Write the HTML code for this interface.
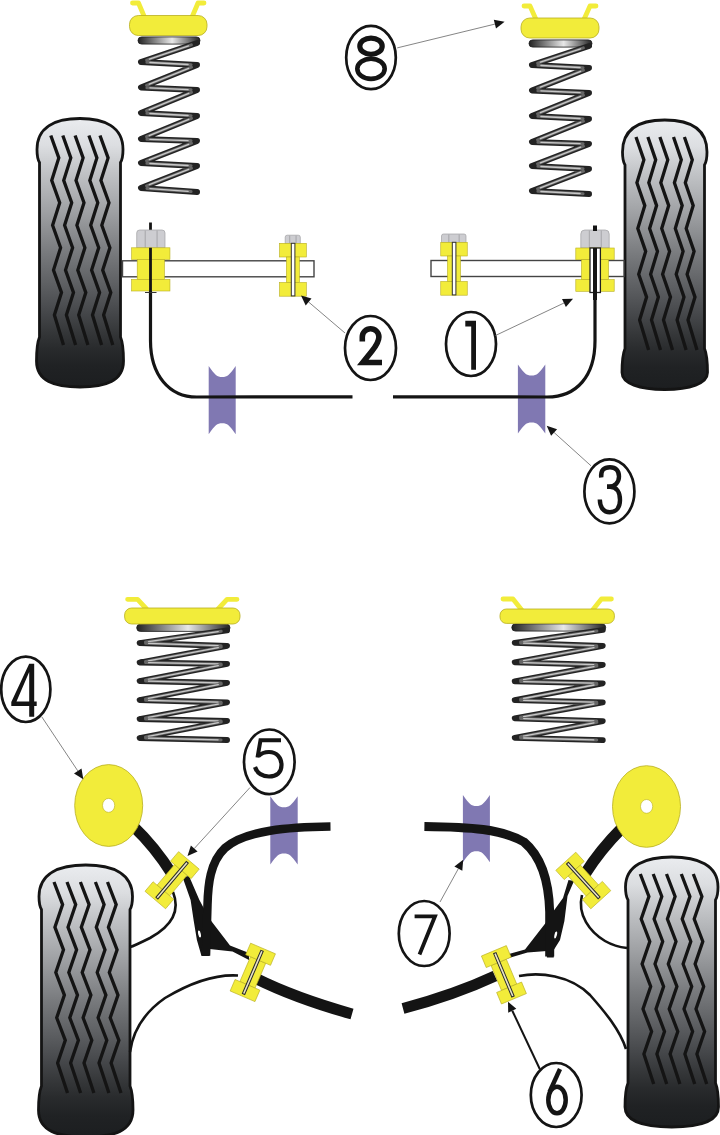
<!DOCTYPE html><html><head><meta charset="utf-8"><style>html,body{margin:0;padding:0;background:#fff;overflow:hidden;}svg{display:block;}</style></head><body>
<svg width="720" height="1135" viewBox="0 0 720 1135">
<defs>
<linearGradient id="tyreg" x1="0" y1="0" x2="0" y2="1">
<stop offset="0" stop-color="#eaecef"/>
<stop offset="0.1" stop-color="#dcdee1"/>
<stop offset="0.2" stop-color="#c1c3c6"/>
<stop offset="0.35" stop-color="#9ea0a3"/>
<stop offset="0.5" stop-color="#787a7d"/>
<stop offset="0.62" stop-color="#5d5f62"/>
<stop offset="0.72" stop-color="#46484b"/>
<stop offset="0.8" stop-color="#343638"/>
<stop offset="0.86" stop-color="#282a2c"/>
<stop offset="0.92" stop-color="#202224"/>
<stop offset="1" stop-color="#1c1e20"/>
</linearGradient>
<linearGradient id="ringg" x1="0" y1="0" x2="1" y2="0">
<stop offset="0" stop-color="#222"/>
<stop offset="0.55" stop-color="#e8e8e8"/>
<stop offset="1" stop-color="#222"/>
</linearGradient>
</defs>
<rect width="720" height="1135" fill="#fff"/>
<rect x="138" y="36.9" width="62" height="7.2" rx="3.6" fill="url(#ringg)" stroke="#1a1a1a" stroke-width="0.8"/>
<path d="M 197.1 43.0 L 140.9 62.0 L 197.1 65.0 L 140.9 87.5 L 197.1 90.0 L 140.9 113.0 L 197.1 116.0 L 140.9 139.0 L 197.1 141.0 L 140.9 163.0 L 197.1 166.0 L 140.9 188.0 L 197.1 192.0" fill="none" stroke="#232323" stroke-width="5.8" stroke-linecap="round" stroke-linejoin="round"/>
<line x1="191.4" y1="44.9" x2="146.6" y2="60.1" stroke="#666" stroke-width="3" stroke-linecap="round"/>
<line x1="188.6" y1="45.9" x2="149.4" y2="59.1" stroke="#c8c8c8" stroke-width="1.3" stroke-linecap="round"/>
<line x1="146.9" y1="62.3" x2="191.1" y2="64.7" stroke="#666" stroke-width="3" stroke-linecap="round"/>
<line x1="149.9" y1="62.5" x2="188.1" y2="64.5" stroke="#c8c8c8" stroke-width="1.3" stroke-linecap="round"/>
<line x1="191.5" y1="67.2" x2="146.5" y2="85.3" stroke="#666" stroke-width="3" stroke-linecap="round"/>
<line x1="188.7" y1="68.3" x2="149.3" y2="84.2" stroke="#c8c8c8" stroke-width="1.3" stroke-linecap="round"/>
<line x1="146.9" y1="87.8" x2="191.1" y2="89.7" stroke="#666" stroke-width="3" stroke-linecap="round"/>
<line x1="149.9" y1="87.9" x2="188.1" y2="89.6" stroke="#c8c8c8" stroke-width="1.3" stroke-linecap="round"/>
<line x1="191.5" y1="92.3" x2="146.5" y2="110.7" stroke="#666" stroke-width="3" stroke-linecap="round"/>
<line x1="188.8" y1="93.4" x2="149.2" y2="109.6" stroke="#c8c8c8" stroke-width="1.3" stroke-linecap="round"/>
<line x1="146.9" y1="113.3" x2="191.1" y2="115.7" stroke="#666" stroke-width="3" stroke-linecap="round"/>
<line x1="149.9" y1="113.5" x2="188.1" y2="115.5" stroke="#c8c8c8" stroke-width="1.3" stroke-linecap="round"/>
<line x1="191.5" y1="118.3" x2="146.5" y2="136.7" stroke="#666" stroke-width="3" stroke-linecap="round"/>
<line x1="188.8" y1="119.4" x2="149.2" y2="135.6" stroke="#c8c8c8" stroke-width="1.3" stroke-linecap="round"/>
<line x1="146.9" y1="139.2" x2="191.1" y2="140.8" stroke="#666" stroke-width="3" stroke-linecap="round"/>
<line x1="149.9" y1="139.3" x2="188.1" y2="140.7" stroke="#c8c8c8" stroke-width="1.3" stroke-linecap="round"/>
<line x1="191.5" y1="143.2" x2="146.5" y2="160.8" stroke="#666" stroke-width="3" stroke-linecap="round"/>
<line x1="188.7" y1="144.3" x2="149.3" y2="159.7" stroke="#c8c8c8" stroke-width="1.3" stroke-linecap="round"/>
<line x1="146.9" y1="163.3" x2="191.1" y2="165.7" stroke="#666" stroke-width="3" stroke-linecap="round"/>
<line x1="149.9" y1="163.5" x2="188.1" y2="165.5" stroke="#c8c8c8" stroke-width="1.3" stroke-linecap="round"/>
<line x1="191.5" y1="168.2" x2="146.5" y2="185.8" stroke="#666" stroke-width="3" stroke-linecap="round"/>
<line x1="188.7" y1="169.3" x2="149.3" y2="184.7" stroke="#c8c8c8" stroke-width="1.3" stroke-linecap="round"/>
<line x1="146.9" y1="188.4" x2="191.1" y2="191.6" stroke="#666" stroke-width="3" stroke-linecap="round"/>
<line x1="149.9" y1="188.6" x2="188.1" y2="191.4" stroke="#c8c8c8" stroke-width="1.3" stroke-linecap="round"/>
<rect x="529" y="39.9" width="63" height="7.2" rx="3.6" fill="url(#ringg)" stroke="#1a1a1a" stroke-width="0.8"/>
<path d="M 589.1 46.0 L 531.9 65.0 L 589.1 68.0 L 531.9 90.5 L 589.1 93.0 L 531.9 116.0 L 589.1 119.0 L 531.9 142.0 L 589.1 144.0 L 531.9 166.0 L 589.1 169.0 L 531.9 191.0 L 589.1 194.0" fill="none" stroke="#232323" stroke-width="5.8" stroke-linecap="round" stroke-linejoin="round"/>
<line x1="583.4" y1="47.9" x2="537.6" y2="63.1" stroke="#666" stroke-width="3" stroke-linecap="round"/>
<line x1="580.6" y1="48.8" x2="540.4" y2="62.2" stroke="#c8c8c8" stroke-width="1.3" stroke-linecap="round"/>
<line x1="537.9" y1="65.3" x2="583.1" y2="67.7" stroke="#666" stroke-width="3" stroke-linecap="round"/>
<line x1="540.9" y1="65.5" x2="580.1" y2="67.5" stroke="#c8c8c8" stroke-width="1.3" stroke-linecap="round"/>
<line x1="583.5" y1="70.2" x2="537.5" y2="88.3" stroke="#666" stroke-width="3" stroke-linecap="round"/>
<line x1="580.7" y1="71.3" x2="540.3" y2="87.2" stroke="#c8c8c8" stroke-width="1.3" stroke-linecap="round"/>
<line x1="537.9" y1="90.8" x2="583.1" y2="92.7" stroke="#666" stroke-width="3" stroke-linecap="round"/>
<line x1="540.9" y1="90.9" x2="580.1" y2="92.6" stroke="#c8c8c8" stroke-width="1.3" stroke-linecap="round"/>
<line x1="583.5" y1="95.2" x2="537.5" y2="113.8" stroke="#666" stroke-width="3" stroke-linecap="round"/>
<line x1="580.7" y1="96.4" x2="540.3" y2="112.6" stroke="#c8c8c8" stroke-width="1.3" stroke-linecap="round"/>
<line x1="537.9" y1="116.3" x2="583.1" y2="118.7" stroke="#666" stroke-width="3" stroke-linecap="round"/>
<line x1="540.9" y1="116.5" x2="580.1" y2="118.5" stroke="#c8c8c8" stroke-width="1.3" stroke-linecap="round"/>
<line x1="583.5" y1="121.2" x2="537.5" y2="139.8" stroke="#666" stroke-width="3" stroke-linecap="round"/>
<line x1="580.7" y1="122.4" x2="540.3" y2="138.6" stroke="#c8c8c8" stroke-width="1.3" stroke-linecap="round"/>
<line x1="537.9" y1="142.2" x2="583.1" y2="143.8" stroke="#666" stroke-width="3" stroke-linecap="round"/>
<line x1="540.9" y1="142.3" x2="580.1" y2="143.7" stroke="#c8c8c8" stroke-width="1.3" stroke-linecap="round"/>
<line x1="583.5" y1="146.2" x2="537.5" y2="163.8" stroke="#666" stroke-width="3" stroke-linecap="round"/>
<line x1="580.7" y1="147.2" x2="540.3" y2="162.8" stroke="#c8c8c8" stroke-width="1.3" stroke-linecap="round"/>
<line x1="537.9" y1="166.3" x2="583.1" y2="168.7" stroke="#666" stroke-width="3" stroke-linecap="round"/>
<line x1="540.9" y1="166.5" x2="580.1" y2="168.5" stroke="#c8c8c8" stroke-width="1.3" stroke-linecap="round"/>
<line x1="583.5" y1="171.2" x2="537.5" y2="188.8" stroke="#666" stroke-width="3" stroke-linecap="round"/>
<line x1="580.7" y1="172.2" x2="540.3" y2="187.8" stroke="#c8c8c8" stroke-width="1.3" stroke-linecap="round"/>
<line x1="537.9" y1="191.3" x2="583.1" y2="193.7" stroke="#666" stroke-width="3" stroke-linecap="round"/>
<line x1="540.9" y1="191.5" x2="580.1" y2="193.5" stroke="#c8c8c8" stroke-width="1.3" stroke-linecap="round"/>
<path d="M 144.225 16.5 L 138.5 3 L 132.5 3" fill="none" stroke="#f2ec3a" stroke-width="4.8" stroke-linejoin="round" stroke-linecap="round"/>
<path d="M 192.275 16.5 L 198 3 L 204 3" fill="none" stroke="#f2ec3a" stroke-width="4.8" stroke-linejoin="round" stroke-linecap="round"/>
<rect x="129.5" y="15.5" width="77.5" height="20.0" rx="8.8" fill="#f2ec3a" stroke="#b8ae20" stroke-width="0.8"/>
<path d="M 535.82 19 L 530 6 L 524 6" fill="none" stroke="#f2ec3a" stroke-width="4.8" stroke-linejoin="round" stroke-linecap="round"/>
<path d="M 584.18 19 L 590 6 L 596 6" fill="none" stroke="#f2ec3a" stroke-width="4.8" stroke-linejoin="round" stroke-linecap="round"/>
<rect x="521" y="18" width="78" height="20" rx="8.8" fill="#f2ec3a" stroke="#b8ae20" stroke-width="0.8"/>
<path d="M 39.5 162.5 C 37 158.5, 37 153.5, 37 149.5 C 37 126.5, 55.92 118.5, 80.0 118.5 C 104.08 118.5, 123 126.5, 123 149.5 C 123 153.5, 123 158.5, 120.5 162.5 L 120.5 337 C 123 343, 123.5 351, 123.5 361 C 123.5 381, 105.8 387, 80.0 387 C 54.2 387, 36.5 381, 36.5 361 C 36.5 351, 37 343, 39.5 337 Z" fill="url(#tyreg)" stroke="#141414" stroke-width="2.8"/>
<path d="M 50.8 135.5 L 58.8 157.9 L 51.7 180.4 L 59.7 202.8 L 52.6 225.2 L 60.6 247.7 L 53.5 270.1 L 61.5 292.6 L 54.4 315.0 L 63.5 345.0" fill="none" stroke="#141414" stroke-width="3.3" stroke-linejoin="miter" stroke-miterlimit="6"/>
<path d="M 62.8 135.5 L 70.8 157.9 L 63.7 180.4 L 71.7 202.8 L 64.6 225.2 L 72.6 247.7 L 65.5 270.1 L 73.5 292.6 L 66.4 315.0 L 75.6 345.0" fill="none" stroke="#141414" stroke-width="3.3" stroke-linejoin="miter" stroke-miterlimit="6"/>
<path d="M 75.1 135.5 L 83.1 157.9 L 76.0 180.4 L 84.0 202.8 L 76.9 225.2 L 84.9 247.7 L 77.8 270.1 L 85.8 292.6 L 78.7 315.0 L 87.9 345.0" fill="none" stroke="#141414" stroke-width="3.3" stroke-linejoin="miter" stroke-miterlimit="6"/>
<path d="M 88.9 135.5 L 96.9 157.9 L 89.8 180.4 L 97.8 202.8 L 90.7 225.2 L 98.7 247.7 L 91.6 270.1 L 99.6 292.6 L 92.5 315.0 L 101.6 345.0" fill="none" stroke="#141414" stroke-width="3.3" stroke-linejoin="miter" stroke-miterlimit="6"/>
<path d="M 100.0 135.5 L 108.1 157.9 L 100.9 180.4 L 109.0 202.8 L 101.8 225.2 L 109.9 247.7 L 102.7 270.1 L 110.8 292.6 L 103.6 315.0 L 112.8 345.0" fill="none" stroke="#141414" stroke-width="3.3" stroke-linejoin="miter" stroke-miterlimit="6"/>
<path d="M 625.0 165 C 622.5 161, 622.5 156, 622.5 152 C 622.5 128, 641.09 120, 664.75 120 C 688.41 120, 707 128, 707 152 C 707 156, 707 161, 704.5 165 L 704.5 348.5 C 707 354.5, 707.5 362.5, 707.5 372.5 C 707.5 383.5, 690.1 389.5, 664.75 389.5 C 639.4 389.5, 622.0 383.5, 622.0 372.5 C 622.0 362.5, 622.5 354.5, 625.0 348.5 Z" fill="url(#tyreg)" stroke="#141414" stroke-width="2.8"/>
<path d="M 636.0 137.0 L 643.9 159.9 L 636.9 182.8 L 644.8 205.6 L 637.8 228.5 L 645.7 251.4 L 638.7 274.2 L 646.6 297.1 L 639.6 320.0 L 648.6 350.0" fill="none" stroke="#141414" stroke-width="3.3" stroke-linejoin="miter" stroke-miterlimit="6"/>
<path d="M 647.9 137.0 L 655.7 159.9 L 648.8 182.8 L 656.6 205.6 L 649.6 228.5 L 657.5 251.4 L 650.6 274.2 L 658.4 297.1 L 651.5 320.0 L 660.5 350.0" fill="none" stroke="#141414" stroke-width="3.3" stroke-linejoin="miter" stroke-miterlimit="6"/>
<path d="M 659.9 137.0 L 667.8 159.9 L 660.8 182.8 L 668.7 205.6 L 661.7 228.5 L 669.6 251.4 L 662.6 274.2 L 670.5 297.1 L 663.5 320.0 L 672.5 350.0" fill="none" stroke="#141414" stroke-width="3.3" stroke-linejoin="miter" stroke-miterlimit="6"/>
<path d="M 673.5 137.0 L 681.3 159.9 L 674.4 182.8 L 682.2 205.6 L 675.3 228.5 L 683.1 251.4 L 676.2 274.2 L 684.0 297.1 L 677.1 320.0 L 686.1 350.0" fill="none" stroke="#141414" stroke-width="3.3" stroke-linejoin="miter" stroke-miterlimit="6"/>
<path d="M 684.4 137.0 L 692.3 159.9 L 685.3 182.8 L 693.2 205.6 L 686.2 228.5 L 694.1 251.4 L 687.1 274.2 L 695.0 297.1 L 688.0 320.0 L 697.0 350.0" fill="none" stroke="#141414" stroke-width="3.3" stroke-linejoin="miter" stroke-miterlimit="6"/>
<path d="M 208.7 366 C 215.45 375.35, 216.80 377.00, 222.20 377.00 C 227.60 377.00, 228.95 375.35, 235.7 366 L 235.7 434.2 C 228.95 424.85, 227.60 423.20, 222.20 423.20 C 216.80 423.20, 215.45 424.85, 208.7 434.2 Z" fill="#8078b2"/>
<path d="M 517.9 364.5 C 524.75 373.85, 526.12 375.50, 531.60 375.50 C 537.08 375.50, 538.45 373.85, 545.3 364.5 L 545.3 433.4 C 538.45 424.05, 537.08 422.40, 531.60 422.40 C 526.12 422.40, 524.75 424.05, 517.9 433.4 Z" fill="#8078b2"/>
<rect x="122.5" y="260.8" width="191.5" height="16" fill="#fff" stroke="#444" stroke-width="1.4"/>
<rect x="431" y="260.5" width="193" height="16" fill="#fff" stroke="#444" stroke-width="1.4"/>
<path d="M 150.5 290 L 150.5 340.7 C 150.5 374.9, 169.1 397, 196.7 397 L 352.5 396.8" fill="none" stroke="#141414" stroke-width="3.2"/>
<path d="M 393 396.8 L 547 397 C 576.8 397, 595 376, 595 340.7 L 595 290" fill="none" stroke="#141414" stroke-width="3.2"/>
<line x1="150.5" y1="222.5" x2="150.5" y2="231" stroke="#141414" stroke-width="2.8"/>
<path d="M 136.7 247.8 L 136.7 233 Q 136.7 230 139.7 230 L 162 230 Q 165 230 165 233 L 165 247.8 Z" fill="#cdcdd1" stroke="#a0a0a4" stroke-width="0.7"/>
<line x1="145.19" y1="230.5" x2="145.19" y2="247.8" stroke="#a0a0a4" stroke-width="0.9"/>
<line x1="157.076" y1="230.5" x2="157.076" y2="247.8" stroke="#a0a0a4" stroke-width="0.9"/>
<rect x="131.65" y="247.8" width="38.3" height="11.6" fill="#f2ec3a" stroke="#b8ae20" stroke-width="0.6"/>
<rect x="137.20000000000002" y="259.40000000000003" width="27.2" height="20" fill="#f2ec3a" stroke="#b8ae20" stroke-width="0.6"/>
<rect x="131.65" y="279.40000000000003" width="38.3" height="11.6" fill="#f2ec3a" stroke="#b8ae20" stroke-width="0.6"/>
<line x1="150.5" y1="247.8" x2="150.5" y2="300" stroke="#141414" stroke-width="2.8"/>
<line x1="145" y1="292.5" x2="156.5" y2="292.5" stroke="#333" stroke-width="1"/>
<path d="M 285.2 243.5 L 285.2 237.2 Q 285.2 235.2 287.2 235.2 L 298.3 235.2 Q 300.3 235.2 300.3 237.2 L 300.3 243.5 Z" fill="#cdcdd1" stroke="#a0a0a4" stroke-width="0.7"/>
<line x1="289.73" y1="235.7" x2="289.73" y2="243.5" stroke="#a0a0a4" stroke-width="0.9"/>
<line x1="296.072" y1="235.7" x2="296.072" y2="243.5" stroke="#a0a0a4" stroke-width="0.9"/>
<rect x="279.5" y="243.3" width="26.8" height="13.7" fill="#f2ec3a" stroke="#b8ae20" stroke-width="0.6"/>
<rect x="286.4" y="257.0" width="13" height="25.5" fill="#f2ec3a" stroke="#b8ae20" stroke-width="0.6"/>
<rect x="279.5" y="282.5" width="26.8" height="13.7" fill="#f2ec3a" stroke="#b8ae20" stroke-width="0.6"/>
<rect x="291.3" y="243.3" width="3.6" height="52.6" fill="#fff" stroke="#333" stroke-width="1"/>
<path d="M 441.5 242.5 L 441.5 236 Q 441.5 234 443.5 234 L 464 234 Q 466 234 466 236 L 466 242.5 Z" fill="#cdcdd1" stroke="#a0a0a4" stroke-width="0.7"/>
<line x1="448.85" y1="234.5" x2="448.85" y2="242.5" stroke="#a0a0a4" stroke-width="0.9"/>
<line x1="459.14" y1="234.5" x2="459.14" y2="242.5" stroke="#a0a0a4" stroke-width="0.9"/>
<rect x="440.75" y="242.3" width="26.5" height="13.7" fill="#f2ec3a" stroke="#b8ae20" stroke-width="0.6"/>
<rect x="447.5" y="256.0" width="13" height="25.5" fill="#f2ec3a" stroke="#b8ae20" stroke-width="0.6"/>
<rect x="440.75" y="281.5" width="26.5" height="13.7" fill="#f2ec3a" stroke="#b8ae20" stroke-width="0.6"/>
<rect x="452.3" y="242.3" width="3.6" height="52.6" fill="#fff" stroke="#333" stroke-width="1"/>
<path d="M 580.8 248 L 580.8 234 Q 580.8 230 584.8 230 L 605.2 230 Q 609.2 230 609.2 234 L 609.2 248 Z" fill="#cdcdd1" stroke="#a0a0a4" stroke-width="0.7"/>
<line x1="589.3199999999999" y1="230.5" x2="589.3199999999999" y2="248" stroke="#a0a0a4" stroke-width="0.9"/>
<line x1="601.248" y1="230.5" x2="601.248" y2="248" stroke="#a0a0a4" stroke-width="0.9"/>
<rect x="575.8" y="248" width="38.4" height="11.7" fill="#f2ec3a" stroke="#b8ae20" stroke-width="0.6"/>
<rect x="581.5" y="259.7" width="27" height="19.9" fill="#f2ec3a" stroke="#b8ae20" stroke-width="0.6"/>
<rect x="575.8" y="279.59999999999997" width="38.4" height="11.7" fill="#f2ec3a" stroke="#b8ae20" stroke-width="0.6"/>
<rect x="590" y="248" width="10.4" height="44.5" fill="#fff" stroke="#222" stroke-width="1.3"/>
<line x1="595" y1="248" x2="595" y2="300" stroke="#141414" stroke-width="4"/>
<line x1="595" y1="225.5" x2="595" y2="231" stroke="#141414" stroke-width="4"/>
<ellipse cx="371" cy="57.5" rx="24.8" ry="31.7" fill="#fff" stroke="#141414" stroke-width="2.7"/>
<ellipse cx="371" cy="46.2" rx="11.2" ry="8.1" fill="none" stroke="#141414" stroke-width="5.2"/>
<ellipse cx="371" cy="68.8" rx="13.7" ry="10.1" fill="none" stroke="#141414" stroke-width="4.6"/>
<line x1="397.2" y1="47.9" x2="494.9" y2="24.1" stroke="#777" stroke-width="0.9"/>
<path d="M 504.6 21.7 L 496.0 28.4 L 493.8 19.7 Z" fill="#141414"/>
<ellipse cx="370.5" cy="348" rx="25.5" ry="32" fill="#fff" stroke="#141414" stroke-width="2.7"/>
<path d="M 362.3 341.5 L 362.3 337 A 8.3 8.3 0 0 1 378.9 337 C 378.9 342, 376 346, 372 351 L 362.8 362.5 L 382 362.5" fill="none" stroke="#141414" stroke-width="5.6" stroke-linecap="butt" stroke-linejoin="miter"/>
<line x1="345" y1="333" x2="308.6" y2="302.0" stroke="#777" stroke-width="0.9"/>
<path d="M 301 295.5 L 311.5 298.6 L 305.7 305.4 Z" fill="#141414"/>
<ellipse cx="471" cy="344" rx="25" ry="32" fill="#fff" stroke="#141414" stroke-width="2.7"/>
<path d="M 465.3 320.8 L 476 320.8 L 476 369.8 L 471.2 369.8 L 471.2 326.6 L 465.3 326.6 Z" fill="#141414"/>
<line x1="495.5" y1="335.5" x2="564.0" y2="303.0" stroke="#777" stroke-width="0.9"/>
<path d="M 573 298.7 L 565.9 307.1 L 562.0 298.9 Z" fill="#141414"/>
<ellipse cx="609.4" cy="491.4" rx="25" ry="32" fill="#fff" stroke="#141414" stroke-width="2.7"/>
<path d="M 601.2 477.5 C 600.5 470, 604 467.2, 610 467.2 C 616 467.2, 619 471, 619 476.5 C 619 482, 615 486.8, 609 486.8 L 607 486.8" fill="none" stroke="#141414" stroke-width="4.4" stroke-linecap="butt" stroke-linejoin="miter"/>
<path d="M 607 486.8 L 610 486.8 C 617 486.8, 620 493, 620 500 C 620 507.5, 616 512.2, 609.8 512.2 C 603.5 512.2, 600 507.5, 599.8 499.5" fill="none" stroke="#141414" stroke-width="4.4" stroke-linecap="butt" stroke-linejoin="miter"/>
<line x1="591" y1="465.8" x2="554.1" y2="432.5" stroke="#777" stroke-width="0.9"/>
<path d="M 546.7 425.8 L 557.1 429.2 L 551.1 435.8 Z" fill="#141414"/>
<rect x="136.7" y="624.1999999999999" width="93.30000000000001" height="7.2" rx="3.6" fill="url(#ringg)" stroke="#1a1a1a" stroke-width="0.8"/>
<path d="M 227.1 630.3 L 139.6 643.0 L 227.1 646.0 L 139.6 662.5 L 227.1 664.0 L 139.6 681.0 L 227.1 683.0 L 139.6 700.0 L 227.1 702.5 L 139.6 719.0 L 227.1 721.0 L 139.6 738.0 L 227.1 740.0" fill="none" stroke="#232323" stroke-width="5.8" stroke-linecap="round" stroke-linejoin="round"/>
<line x1="221.2" y1="631.2" x2="145.5" y2="642.1" stroke="#666" stroke-width="3" stroke-linecap="round"/>
<line x1="218.2" y1="631.6" x2="148.5" y2="641.7" stroke="#c8c8c8" stroke-width="1.3" stroke-linecap="round"/>
<line x1="145.6" y1="643.2" x2="221.1" y2="645.8" stroke="#666" stroke-width="3" stroke-linecap="round"/>
<line x1="148.6" y1="643.3" x2="218.1" y2="645.7" stroke="#c8c8c8" stroke-width="1.3" stroke-linecap="round"/>
<line x1="221.2" y1="647.1" x2="145.5" y2="661.4" stroke="#666" stroke-width="3" stroke-linecap="round"/>
<line x1="218.3" y1="647.7" x2="148.4" y2="660.8" stroke="#c8c8c8" stroke-width="1.3" stroke-linecap="round"/>
<line x1="145.6" y1="662.6" x2="221.1" y2="663.9" stroke="#666" stroke-width="3" stroke-linecap="round"/>
<line x1="148.6" y1="662.7" x2="218.1" y2="663.8" stroke="#c8c8c8" stroke-width="1.3" stroke-linecap="round"/>
<line x1="221.2" y1="665.1" x2="145.5" y2="679.9" stroke="#666" stroke-width="3" stroke-linecap="round"/>
<line x1="218.3" y1="665.7" x2="148.4" y2="679.3" stroke="#c8c8c8" stroke-width="1.3" stroke-linecap="round"/>
<line x1="145.6" y1="681.1" x2="221.1" y2="682.9" stroke="#666" stroke-width="3" stroke-linecap="round"/>
<line x1="148.6" y1="681.2" x2="218.1" y2="682.8" stroke="#c8c8c8" stroke-width="1.3" stroke-linecap="round"/>
<line x1="221.2" y1="684.1" x2="145.5" y2="698.9" stroke="#666" stroke-width="3" stroke-linecap="round"/>
<line x1="218.3" y1="684.7" x2="148.4" y2="698.3" stroke="#c8c8c8" stroke-width="1.3" stroke-linecap="round"/>
<line x1="145.6" y1="700.2" x2="221.1" y2="702.3" stroke="#666" stroke-width="3" stroke-linecap="round"/>
<line x1="148.6" y1="700.3" x2="218.1" y2="702.2" stroke="#c8c8c8" stroke-width="1.3" stroke-linecap="round"/>
<line x1="221.2" y1="703.6" x2="145.5" y2="717.9" stroke="#666" stroke-width="3" stroke-linecap="round"/>
<line x1="218.3" y1="704.2" x2="148.4" y2="717.3" stroke="#c8c8c8" stroke-width="1.3" stroke-linecap="round"/>
<line x1="145.6" y1="719.1" x2="221.1" y2="720.9" stroke="#666" stroke-width="3" stroke-linecap="round"/>
<line x1="148.6" y1="719.2" x2="218.1" y2="720.8" stroke="#c8c8c8" stroke-width="1.3" stroke-linecap="round"/>
<line x1="221.2" y1="722.1" x2="145.5" y2="736.9" stroke="#666" stroke-width="3" stroke-linecap="round"/>
<line x1="218.3" y1="722.7" x2="148.4" y2="736.3" stroke="#c8c8c8" stroke-width="1.3" stroke-linecap="round"/>
<line x1="145.6" y1="738.1" x2="221.1" y2="739.9" stroke="#666" stroke-width="3" stroke-linecap="round"/>
<line x1="148.6" y1="738.2" x2="218.1" y2="739.8" stroke="#c8c8c8" stroke-width="1.3" stroke-linecap="round"/>
<rect x="511.8" y="623.9" width="93.90000000000003" height="7.2" rx="3.6" fill="url(#ringg)" stroke="#1a1a1a" stroke-width="0.8"/>
<path d="M 602.8 630.0 L 514.7 642.9 L 602.8 646.0 L 514.7 662.3 L 602.8 664.9 L 514.7 681.4 L 602.8 683.3 L 514.7 700.2 L 602.8 702.4 L 514.7 718.3 L 602.8 721.2 L 514.7 737.8 L 602.8 740.1" fill="none" stroke="#232323" stroke-width="5.8" stroke-linecap="round" stroke-linejoin="round"/>
<line x1="596.9" y1="630.9" x2="520.6" y2="642.0" stroke="#666" stroke-width="3" stroke-linecap="round"/>
<line x1="593.9" y1="631.3" x2="523.6" y2="641.6" stroke="#c8c8c8" stroke-width="1.3" stroke-linecap="round"/>
<line x1="520.7" y1="643.1" x2="596.8" y2="645.8" stroke="#666" stroke-width="3" stroke-linecap="round"/>
<line x1="523.7" y1="643.2" x2="593.8" y2="645.7" stroke="#c8c8c8" stroke-width="1.3" stroke-linecap="round"/>
<line x1="596.9" y1="647.1" x2="520.6" y2="661.2" stroke="#666" stroke-width="3" stroke-linecap="round"/>
<line x1="594.0" y1="647.6" x2="523.5" y2="660.7" stroke="#c8c8c8" stroke-width="1.3" stroke-linecap="round"/>
<line x1="520.7" y1="662.5" x2="596.8" y2="664.7" stroke="#666" stroke-width="3" stroke-linecap="round"/>
<line x1="523.7" y1="662.6" x2="593.8" y2="664.6" stroke="#c8c8c8" stroke-width="1.3" stroke-linecap="round"/>
<line x1="596.9" y1="666.0" x2="520.6" y2="680.3" stroke="#666" stroke-width="3" stroke-linecap="round"/>
<line x1="594.0" y1="666.6" x2="523.5" y2="679.7" stroke="#c8c8c8" stroke-width="1.3" stroke-linecap="round"/>
<line x1="520.7" y1="681.5" x2="596.8" y2="683.2" stroke="#666" stroke-width="3" stroke-linecap="round"/>
<line x1="523.7" y1="681.6" x2="593.8" y2="683.1" stroke="#c8c8c8" stroke-width="1.3" stroke-linecap="round"/>
<line x1="596.9" y1="684.4" x2="520.6" y2="699.1" stroke="#666" stroke-width="3" stroke-linecap="round"/>
<line x1="594.0" y1="685.0" x2="523.5" y2="698.5" stroke="#c8c8c8" stroke-width="1.3" stroke-linecap="round"/>
<line x1="520.7" y1="700.3" x2="596.8" y2="702.3" stroke="#666" stroke-width="3" stroke-linecap="round"/>
<line x1="523.7" y1="700.4" x2="593.8" y2="702.2" stroke="#c8c8c8" stroke-width="1.3" stroke-linecap="round"/>
<line x1="596.9" y1="703.5" x2="520.6" y2="717.2" stroke="#666" stroke-width="3" stroke-linecap="round"/>
<line x1="593.9" y1="704.0" x2="523.6" y2="716.7" stroke="#c8c8c8" stroke-width="1.3" stroke-linecap="round"/>
<line x1="520.7" y1="718.5" x2="596.8" y2="721.0" stroke="#666" stroke-width="3" stroke-linecap="round"/>
<line x1="523.7" y1="718.6" x2="593.8" y2="720.9" stroke="#c8c8c8" stroke-width="1.3" stroke-linecap="round"/>
<line x1="596.9" y1="722.3" x2="520.6" y2="736.7" stroke="#666" stroke-width="3" stroke-linecap="round"/>
<line x1="594.0" y1="722.9" x2="523.5" y2="736.1" stroke="#c8c8c8" stroke-width="1.3" stroke-linecap="round"/>
<line x1="520.7" y1="738.0" x2="596.8" y2="739.9" stroke="#666" stroke-width="3" stroke-linecap="round"/>
<line x1="523.7" y1="738.0" x2="593.8" y2="739.9" stroke="#c8c8c8" stroke-width="1.3" stroke-linecap="round"/>
<path d="M 146.526 609 L 137.6 599.3 L 127.6 599.3" fill="none" stroke="#f2ec3a" stroke-width="4.8" stroke-linejoin="round" stroke-linecap="round"/>
<path d="M 218.074 609 L 227 599.3 L 237 599.3" fill="none" stroke="#f2ec3a" stroke-width="4.8" stroke-linejoin="round" stroke-linecap="round"/>
<rect x="124.6" y="608" width="115.4" height="16" rx="7.04" fill="#f2ec3a" stroke="#b8ae20" stroke-width="0.8"/>
<path d="M 521.736 610 L 513 599 L 503 599" fill="none" stroke="#f2ec3a" stroke-width="4.8" stroke-linejoin="round" stroke-linecap="round"/>
<path d="M 592.664 610 L 601.4 599 L 611.4 599" fill="none" stroke="#f2ec3a" stroke-width="4.8" stroke-linejoin="round" stroke-linecap="round"/>
<rect x="500" y="609" width="114.39999999999998" height="14.399999999999977" rx="6.33599999999999" fill="#f2ec3a" stroke="#b8ae20" stroke-width="0.8"/>
<path d="M 41.5 909.6 C 39 905.6, 39 900.6, 39 896.6 C 39 873, 59.57 865, 85.75 865 C 111.93 865, 132.5 873, 132.5 896.6 C 132.5 900.6, 132.5 905.6, 130.0 909.6 L 130.0 1086 C 132.5 1092, 133.0 1100, 133.0 1110 C 133.0 1131, 113.8 1137, 85.75 1137 C 57.7 1137, 38.5 1131, 38.5 1110 C 38.5 1100, 39 1092, 41.5 1086 Z" fill="url(#tyreg)" stroke="#141414" stroke-width="2.8"/>
<path d="M 54.0 882.0 L 62.6 904.6 L 54.9 927.2 L 63.5 949.9 L 55.8 972.5 L 64.4 995.1 L 56.7 1017.8 L 65.3 1040.4 L 57.6 1063.0 L 67.5 1093.0" fill="none" stroke="#141414" stroke-width="3.3" stroke-linejoin="miter" stroke-miterlimit="6"/>
<path d="M 67.0 882.0 L 75.7 904.6 L 68.0 927.2 L 76.6 949.9 L 68.8 972.5 L 77.5 995.1 L 69.8 1017.8 L 78.4 1040.4 L 70.6 1063.0 L 80.6 1093.0" fill="none" stroke="#141414" stroke-width="3.3" stroke-linejoin="miter" stroke-miterlimit="6"/>
<path d="M 80.4 882.0 L 89.1 904.6 L 81.3 927.2 L 90.0 949.9 L 82.2 972.5 L 90.9 995.1 L 83.1 1017.8 L 91.8 1040.4 L 84.0 1063.0 L 93.9 1093.0" fill="none" stroke="#141414" stroke-width="3.3" stroke-linejoin="miter" stroke-miterlimit="6"/>
<path d="M 95.4 882.0 L 104.1 904.6 L 96.3 927.2 L 105.0 949.9 L 97.2 972.5 L 105.9 995.1 L 98.1 1017.8 L 106.8 1040.4 L 99.0 1063.0 L 108.9 1093.0" fill="none" stroke="#141414" stroke-width="3.3" stroke-linejoin="miter" stroke-miterlimit="6"/>
<path d="M 107.5 882.0 L 116.2 904.6 L 108.4 927.2 L 117.1 949.9 L 109.3 972.5 L 118.0 995.1 L 110.2 1017.8 L 118.9 1040.4 L 111.1 1063.0 L 121.0 1093.0" fill="none" stroke="#141414" stroke-width="3.3" stroke-linejoin="miter" stroke-miterlimit="6"/>
<path d="M 628.0 900 C 625.5 896, 625.5 891, 625.5 887 C 625.5 865, 645.85 857, 671.75 857 C 697.65 857, 718 865, 718 887 C 718 891, 718 896, 715.5 900 L 715.5 1083 C 718 1089, 718.5 1097, 718.5 1107 C 718.5 1121, 699.5 1127, 671.75 1127 C 644.0 1127, 625.0 1121, 625.0 1107 C 625.0 1097, 625.5 1089, 628.0 1083 Z" fill="url(#tyreg)" stroke="#141414" stroke-width="2.8"/>
<path d="M 640.3 874.0 L 648.9 896.5 L 641.2 919.0 L 649.8 941.5 L 642.1 964.0 L 650.7 986.5 L 643.0 1009.0 L 651.6 1031.5 L 643.9 1054.0 L 653.7 1084.0" fill="none" stroke="#141414" stroke-width="3.3" stroke-linejoin="miter" stroke-miterlimit="6"/>
<path d="M 653.2 874.0 L 661.8 896.5 L 654.1 919.0 L 662.7 941.5 L 655.0 964.0 L 663.6 986.5 L 656.0 1009.0 L 664.5 1031.5 L 656.9 1054.0 L 666.7 1084.0" fill="none" stroke="#141414" stroke-width="3.3" stroke-linejoin="miter" stroke-miterlimit="6"/>
<path d="M 666.5 874.0 L 675.1 896.5 L 667.4 919.0 L 676.0 941.5 L 668.3 964.0 L 676.9 986.5 L 669.2 1009.0 L 677.8 1031.5 L 670.1 1054.0 L 679.9 1084.0" fill="none" stroke="#141414" stroke-width="3.3" stroke-linejoin="miter" stroke-miterlimit="6"/>
<path d="M 681.3 874.0 L 689.9 896.5 L 682.2 919.0 L 690.8 941.5 L 683.1 964.0 L 691.7 986.5 L 684.0 1009.0 L 692.6 1031.5 L 684.9 1054.0 L 694.7 1084.0" fill="none" stroke="#141414" stroke-width="3.3" stroke-linejoin="miter" stroke-miterlimit="6"/>
<path d="M 693.3 874.0 L 701.9 896.5 L 694.2 919.0 L 702.8 941.5 L 695.1 964.0 L 703.7 986.5 L 696.0 1009.0 L 704.6 1031.5 L 696.9 1054.0 L 706.7 1084.0" fill="none" stroke="#141414" stroke-width="3.3" stroke-linejoin="miter" stroke-miterlimit="6"/>
<path d="M 270.3 796.3 C 277.15 805.65, 278.52 807.30, 284.00 807.30 C 289.48 807.30, 290.85 805.65, 297.7 796.3 L 297.7 864.6 C 290.85 855.25, 289.48 853.60, 284.00 853.60 C 278.52 853.60, 277.15 855.25, 270.3 864.6 Z" fill="#8078b2"/>
<path d="M 462.9 794.9 C 469.65 804.25, 471.00 805.90, 476.40 805.90 C 481.80 805.90, 483.15 804.25, 489.9 794.9 L 489.9 862.3 C 483.15 852.95, 481.80 851.30, 476.40 851.30 C 471.00 851.30, 469.65 852.95, 462.9 862.3 Z" fill="#8078b2"/>
<path d="M 173 892 C 181 912, 170 927, 150 938 C 140 943, 134 946, 130 947" fill="none" stroke="#141414" stroke-width="2.6"/>
<path d="M 238 975.5 C 215 974, 190 983, 165 998 C 145 1012, 133 1030, 130 1052" fill="none" stroke="#141414" stroke-width="2.6"/>
<path d="M 182.5 877 L 189 876 L 199.4 900 L 208 916 L 212 922 L 230 945.5 L 249 953 L 249 960 L 232.5 951.5 L 209.5 949 L 209.5 956 L 201.5 956 L 196.9 940 L 193.75 921 L 190.6 900 Z" fill="#141414"/>
<ellipse cx="199.5" cy="934" rx="1.3" ry="3.5" transform="rotate(-12 199.5 934)" fill="#fff"/>
<path d="M 330.5 826.5 C 290 827, 245 830, 225 848 C 210 862, 208 885, 207.5 905 L 206 955.5" fill="none" stroke="#141414" stroke-width="8.5"/>
<path d="M 255 978 C 285 993, 320 1005, 352 1014" fill="none" stroke="#141414" stroke-width="11"/>
<path d="M 133 826 Q 155 847, 172 874" fill="none" stroke="#141414" stroke-width="11"/>
<path d="M 582 895 C 577 915, 590 932, 605 941 C 612 945, 618 947, 627 948" fill="none" stroke="#141414" stroke-width="2.6"/>
<path d="M 519 976 C 540 972, 570 975, 590 995 C 605 1012, 620 1030, 626 1049" fill="none" stroke="#141414" stroke-width="2.6"/>
<path d="M 568.5 880 L 574 881 L 567.5 896 L 564.4 921 L 560 940 L 553.75 950 L 553.75 957.5 L 546.9 957.5 L 546.9 951 L 527.5 952.5 L 507.5 958.5 L 507 954.5 L 525 949.5 L 545 923.75 L 552.5 912.5 L 563 898 Z" fill="#141414"/>
<ellipse cx="555.6" cy="935" rx="1.3" ry="3.5" transform="rotate(15 555.6 935)" fill="#fff"/>
<path d="M 424.4 826.5 C 470 827, 502 829, 524 842 C 543 858, 549 885, 549.7 912 L 549.7 956.5" fill="none" stroke="#141414" stroke-width="9"/>
<path d="M 495 976 C 465 990, 435 1000, 403 1008.5" fill="none" stroke="#141414" stroke-width="11"/>
<path d="M 622 828 Q 600 850, 585 874" fill="none" stroke="#141414" stroke-width="11.5"/>
<ellipse cx="108.7" cy="805.5" rx="34" ry="40.9" fill="#f2ec3a" stroke="#b8ae20" stroke-width="0.8"/>
<ellipse cx="108.6" cy="805.4" rx="6.1" ry="7" fill="#fff" stroke="#b8ae20" stroke-width="0.6"/>
<ellipse cx="646.5" cy="806.5" rx="34" ry="40.8" fill="#f2ec3a" stroke="#b8ae20" stroke-width="0.8"/>
<ellipse cx="646.6" cy="806.4" rx="6.1" ry="6.9" fill="#fff" stroke="#b8ae20" stroke-width="0.6"/>
<g transform="translate(172.1 880.2) rotate(-49.7)">
<rect x="-13.5" y="-8.25" width="27.0" height="16.5" fill="#f2ec3a" stroke="#b8ae20" stroke-width="0.6"/>
<rect x="-26.0" y="-13.5" width="12.5" height="27" fill="#f2ec3a" stroke="#b8ae20" stroke-width="0.6"/>
<rect x="13.5" y="-13.5" width="12.5" height="27" fill="#f2ec3a" stroke="#b8ae20" stroke-width="0.6"/>
<rect x="-23.5" y="-1.3" width="47" height="2.6" fill="#e8e4c8" stroke="#2a2a2a" stroke-width="1"/>
</g>
<g transform="translate(252.8 972.4) rotate(-66.8)">
<rect x="-13.5" y="-8.25" width="27.0" height="16.5" fill="#f2ec3a" stroke="#b8ae20" stroke-width="0.6"/>
<rect x="-26.0" y="-13.5" width="12.5" height="27" fill="#f2ec3a" stroke="#b8ae20" stroke-width="0.6"/>
<rect x="13.5" y="-13.5" width="12.5" height="27" fill="#f2ec3a" stroke="#b8ae20" stroke-width="0.6"/>
<rect x="-23.5" y="-1.3" width="47" height="2.6" fill="#e8e4c8" stroke="#2a2a2a" stroke-width="1"/>
</g>
<g transform="translate(583.3 880.5) rotate(47.7)">
<rect x="-13.5" y="-8.25" width="27.0" height="16.5" fill="#f2ec3a" stroke="#b8ae20" stroke-width="0.6"/>
<rect x="-26.0" y="-13.5" width="12.5" height="27" fill="#f2ec3a" stroke="#b8ae20" stroke-width="0.6"/>
<rect x="13.5" y="-13.5" width="12.5" height="27" fill="#f2ec3a" stroke="#b8ae20" stroke-width="0.6"/>
<rect x="-23.5" y="-1.3" width="47" height="2.6" fill="#e8e4c8" stroke="#2a2a2a" stroke-width="1"/>
</g>
<g transform="translate(503.9 974.8) rotate(67.3)">
<rect x="-13.5" y="-8.25" width="27.0" height="16.5" fill="#f2ec3a" stroke="#b8ae20" stroke-width="0.6"/>
<rect x="-26.0" y="-13.5" width="12.5" height="27" fill="#f2ec3a" stroke="#b8ae20" stroke-width="0.6"/>
<rect x="13.5" y="-13.5" width="12.5" height="27" fill="#f2ec3a" stroke="#b8ae20" stroke-width="0.6"/>
<rect x="-23.5" y="-1.3" width="47" height="2.6" fill="#e8e4c8" stroke="#2a2a2a" stroke-width="1"/>
</g>
<ellipse cx="25.8" cy="689.3" rx="24.6" ry="32.7" fill="#fff" stroke="#141414" stroke-width="2.7"/>
<path d="M 29.2 663.8 L 34.2 663.8 L 34.2 701.6 L 36.7 701.6 L 36.7 705.9 L 34.2 705.9 L 34.2 716.7 L 29.2 716.7 L 29.2 705.9 L 11.3 705.9 L 11.3 702 Z M 29.2 672 L 16.5 701.6 L 29.2 701.6 Z" fill="#141414" fill-rule="evenodd"/>
<line x1="41.7" y1="716.7" x2="77.8" y2="770.9" stroke="#777" stroke-width="0.9"/>
<path d="M 83.3 779.2 L 74.0 773.4 L 81.5 768.4 Z" fill="#141414"/>
<ellipse cx="269.3" cy="761.8" rx="25.3" ry="32.3" fill="#fff" stroke="#141414" stroke-width="2.7"/>
<path d="M 281 740.2 L 260.5 740.2 L 257.5 757.5" fill="none" stroke="#141414" stroke-width="4.0" stroke-linecap="butt" stroke-linejoin="miter"/>
<path d="M 258.5 756 C 261 753.5, 265 752, 269 752 C 277 752, 281.5 758, 281.5 765 C 281.5 772.5, 276.5 776.5, 269 776.5 C 262 776.5, 257 773, 255 767" fill="none" stroke="#141414" stroke-width="4.2" stroke-linecap="butt" stroke-linejoin="miter"/>
<line x1="250" y1="787.5" x2="194.2" y2="848.6" stroke="#777" stroke-width="0.9"/>
<path d="M 187.5 856 L 190.9 845.6 L 197.6 851.6 Z" fill="#141414"/>
<ellipse cx="424.2" cy="933.5" rx="25.4" ry="32.5" fill="#fff" stroke="#141414" stroke-width="2.7"/>
<path d="M 414.6 916.3 L 435 916.3 L 419.5 954.5" fill="none" stroke="#141414" stroke-width="3.8" stroke-linecap="butt" stroke-linejoin="miter"/>
<line x1="440" y1="902" x2="458.4" y2="868.6" stroke="#777" stroke-width="0.9"/>
<path d="M 463.2 859.8 L 462.3 870.7 L 454.4 866.4 Z" fill="#141414"/>
<ellipse cx="556.2" cy="1095" rx="25.4" ry="32" fill="#fff" stroke="#141414" stroke-width="2.7"/>
<path d="M 560 1069 L 549.5 1092" fill="none" stroke="#141414" stroke-width="4.4" stroke-linecap="butt" stroke-linejoin="miter"/>
<ellipse cx="557" cy="1100" rx="8.7" ry="13.3" fill="none" stroke="#141414" stroke-width="4.5"/>
<line x1="540" y1="1069.5" x2="512.3" y2="1010.7" stroke="#141414" stroke-width="2"/>
<path d="M 508 1001.7 L 516.3 1008.8 L 508.2 1012.7 Z" fill="#141414"/>
</svg></body></html>
